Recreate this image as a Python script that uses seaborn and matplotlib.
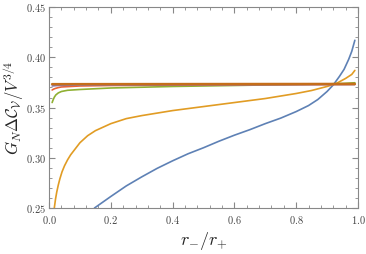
import matplotlib
matplotlib.use("Agg")
import matplotlib.pyplot as plt
import seaborn as sns
import pandas as pd
from matplotlib.ticker import MultipleLocator, FuncFormatter

# curves
x_blue = [0.147, 0.17, 0.2, 0.25, 0.3, 0.35, 0.4, 0.45, 0.5, 0.55, 0.6, 0.65, 0.7, 0.75, 0.8,
          0.84, 0.87, 0.9, 0.92, 0.94, 0.955, 0.97, 0.98, 0.99]
y_blue = [0.250, 0.255, 0.2615, 0.272, 0.281, 0.2895, 0.297, 0.304, 0.310, 0.3165, 0.3225, 0.328,
          0.334, 0.3395, 0.346, 0.352, 0.358, 0.366, 0.3725, 0.381, 0.388, 0.398, 0.406, 0.417]

x_orange = [0.017, 0.021, 0.025, 0.03, 0.035, 0.042, 0.05, 0.06, 0.07, 0.085, 0.1, 0.125, 0.15,
            0.2, 0.25, 0.3, 0.4, 0.5, 0.6, 0.7, 0.8, 0.85, 0.9, 0.93, 0.96, 0.98, 0.99]
y_orange = [0.250, 0.259, 0.266, 0.273, 0.279, 0.286, 0.292, 0.298, 0.303, 0.309, 0.315, 0.322,
            0.327, 0.334, 0.339, 0.342, 0.347, 0.351, 0.355, 0.359, 0.364, 0.367, 0.371, 0.374,
            0.379, 0.383, 0.387]

x_green = [0.01, 0.013, 0.017, 0.022, 0.03, 0.04, 0.06, 0.1, 0.2, 0.4, 0.6, 0.8, 0.9, 0.95, 0.99]
y_green = [0.355, 0.3575, 0.3603, 0.3626, 0.3646, 0.366, 0.3672, 0.368, 0.3695, 0.371, 0.372,
           0.373, 0.3735, 0.374, 0.3747]

x_red = [0.01, 0.015, 0.02, 0.03, 0.04, 0.07, 0.1, 0.2, 0.5, 0.99]
y_red = [0.3675, 0.3684, 0.369, 0.3699, 0.3705, 0.371, 0.3715, 0.372, 0.3725, 0.373]

x_purple = [0.01, 0.02, 0.03, 0.1, 0.99]
y_purple = [0.3715, 0.3718, 0.372, 0.3725, 0.373]

x_brown = [0.01, 0.5, 0.99]
y_brown = [0.3733, 0.3734, 0.3735]

curves = [
    (x_blue, y_blue, "#5E81B5"),
    (x_orange, y_orange, "#E19C24"),
    (x_green, y_green, "#8FB032"),
    (x_red, y_red, "#EB6235"),
    (x_purple, y_purple, "#8778B3"),
    (x_brown, y_brown, "#C56E1A"),
]

sns.set_style("ticks")
plt.rcParams["mathtext.fontset"] = "cm"
plt.rcParams["font.family"] = ["DejaVu Serif"]

fig, ax = plt.subplots(figsize=(3.66, 2.54), dpi=100)
for i, (xs, ys, c) in enumerate(curves):
    df = pd.DataFrame({"x": xs, "y": ys})
    sns.lineplot(data=df, x="x", y="y", color=c, lw=1.8 if i == 5 else 1.2, ax=ax)

ax.set_xlim(0, 1)
ax.set_ylim(0.25, 0.45)
ax.xaxis.set_major_locator(MultipleLocator(0.2))
ax.xaxis.set_minor_locator(MultipleLocator(0.04))
ax.yaxis.set_major_locator(MultipleLocator(0.05))
ax.yaxis.set_minor_locator(MultipleLocator(0.01))
ax.xaxis.set_major_formatter(FuncFormatter(lambda v, p: f"${v:.1f}$"))
ax.yaxis.set_major_formatter(FuncFormatter(lambda v, p: f"${v:.2f}$"))
ax.tick_params(which="both", direction="in", top=True, right=True, color="#888888",
               labelsize=7.5, labelcolor="#444444")
ax.tick_params(axis="y", pad=2)
ax.tick_params(axis="x", pad=4)
ax.tick_params(which="major", length=4)
ax.tick_params(which="minor", length=2)
for s in ax.spines.values():
    s.set_color("#888888")
    s.set_linewidth(0.8)

ax.set_xlabel(r"$r_{-}/r_{+}$", fontsize=13)
ax.set_ylabel(r"$G_N\Delta\mathcal{C}_\mathcal{V}/V^{3/4}$", fontsize=12)
ax.xaxis.set_label_coords(0.5, -0.11)
ax.yaxis.set_label_coords(-0.076, 0.5)

fig.subplots_adjust(left=0.134, right=0.978, top=0.972, bottom=0.181)
fig.savefig("out.png", dpi=100)
